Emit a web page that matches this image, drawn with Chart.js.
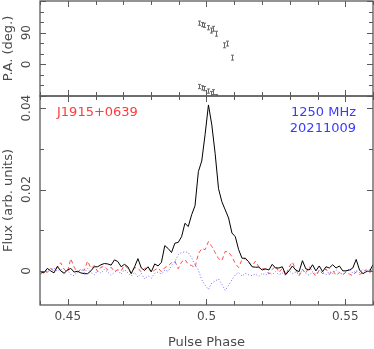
<!DOCTYPE html>
<html>
<head>
<meta charset="utf-8">
<script src="https://cdn.jsdelivr.net/npm/chart.js@4/dist/chart.umd.min.js"></script>
<style>
  html, body { margin: 0; padding: 0; background: #fff; }
  #wrap { position: relative; width: 374px; height: 349px; }
  #wrap canvas { position: absolute; left: 0; top: 0; }
</style>
</head>
<body>
<div id="wrap">
  <canvas id="paChart" width="374" height="349"></canvas>
  <canvas id="profChart" width="374" height="349"></canvas>
</div>
<script>
// Pulse profile of J1915+0639, 1250 MHz, 20211009

// phase bins (start + step, one per profile value)
const PHASE_START = 0.4402;
const PHASE_STEP = 0.00121;

// total intensity (black, solid)
const fluxI = [
  -0.0002, -0.0005, 0.0006, 0.0000, -0.0005, 0.0011, 0.0000, -0.0006, 0.0002, 0.0006,
  -0.0003, -0.0001, -0.0005, -0.0007, -0.0007, 0.0000, 0.0010, 0.0010, 0.0015, 0.0018,
  0.0017, 0.0014, 0.0027, 0.0023, 0.0010, 0.0016, 0.0010, -0.0007, 0.0010, 0.0030,
  0.0007, 0.0001, 0.0010, -0.0002, 0.0017, 0.0012, 0.0021, 0.0062, 0.0055, 0.0045,
  0.0068, 0.0070, 0.0084, 0.0117, 0.0109, 0.0138, 0.0160, 0.0244, 0.0270, 0.0335,
  0.0408, 0.0359, 0.0288, 0.0202, 0.0170, 0.0150, 0.0130, 0.0093, 0.0084, 0.0052,
  0.0031, 0.0031, 0.0022, 0.0010, 0.0009, 0.0009, 0.0002, 0.0005, 0.0002, 0.0016,
  0.0007, 0.0007, 0.0010, -0.0009, 0.0000, 0.0012, 0.0002, -0.0002, 0.0025, 0.0005,
  0.0002, 0.0015, 0.0000, 0.0012, -0.0002, 0.0010, 0.0007, 0.0015, 0.0007, 0.0012,
  0.0000, 0.0000, 0.0002, 0.0007, 0.0028, 0.0002, -0.0007, -0.0002, -0.0001, 0.0015
];

// linear polarisation (red, dashed)
const fluxL = [
  -0.0009, 0.0001, -0.0004, 0.0006, 0.0000, 0.0008, 0.0020, 0.0004, -0.0003, 0.0030,
  0.0009, -0.0004, 0.0005, 0.0001, 0.0024, 0.0006, 0.0013, -0.0002, 0.0009, 0.0011,
  0.0002, 0.0009, -0.0002, 0.0003, 0.0000, 0.0014, 0.0006, -0.0006, 0.0008, 0.0007,
  -0.0003, 0.0006, 0.0008, -0.0004, 0.0002, 0.0007, -0.0002, 0.0008, 0.0012, 0.0020,
  0.0024, 0.0005, 0.0022, 0.0028, 0.0016, 0.0013, 0.0008, 0.0042, 0.0055, 0.0052,
  0.0072, 0.0060, 0.0045, 0.0030, 0.0025, 0.0048, 0.0046, 0.0035, 0.0018, 0.0008,
  0.0028, 0.0030, 0.0020, 0.0012, 0.0024, 0.0010, 0.0006, 0.0004, -0.0008, 0.0003,
  0.0012, -0.0004, 0.0006, -0.0011, 0.0009, 0.0022, 0.0003, -0.0012, 0.0004, -0.0006,
  0.0011, -0.0003, -0.0013, 0.0002, -0.0007, 0.0005, -0.0009, 0.0001, -0.0011, -0.0004,
  -0.0010, -0.0003, -0.0008, -0.0012, -0.0002, -0.0009, -0.0005, 0.0003, -0.0006, 0.0008
];

// circular polarisation (blue, dotted)
const fluxV = [
  -0.0008, -0.0003, 0.0000, 0.0004, 0.0007, -0.0001, 0.0005, -0.0006, 0.0002, -0.0009,
  -0.0012, -0.0002, 0.0004, -0.0005, 0.0006, -0.0004, -0.0010, 0.0001, -0.0006, 0.0004,
  -0.0003, -0.0011, -0.0004, 0.0002, -0.0008, 0.0003, -0.0005, -0.0013, -0.0004, -0.0015,
  -0.0006, -0.0020, -0.0012, -0.0018, -0.0006, -0.0003, -0.0008, 0.0002, -0.0001, 0.0012,
  0.0022, 0.0040, 0.0045, 0.0047, 0.0045, 0.0032, 0.0015, 0.0002, -0.0022, -0.0035,
  -0.0046, -0.0030, -0.0025, -0.0020, -0.0033, -0.0048, -0.0036, -0.0022, -0.0010, -0.0004,
  -0.0013, -0.0006, -0.0010, -0.0012, -0.0008, -0.0014, -0.0006, -0.0011, -0.0004, -0.0009,
  -0.0002, -0.0010, -0.0005, -0.0012, 0.0001, -0.0007, -0.0003, -0.0009, 0.0002, -0.0006,
  -0.0011, -0.0002, -0.0008, 0.0002, -0.0005, -0.0010, -0.0001, -0.0007, 0.0003, -0.0004,
  -0.0009, -0.0001, 0.0005, -0.0006, 0.0001, -0.0004, 0.0003, -0.0002, 0.0004, -0.0003
];

// position angle points
const paPhase = [0.4974, 0.4985, 0.4992, 0.5004, 0.5015, 0.5025, 0.5034, 0.5064, 0.5073, 0.5093];
const paDeg   = [117, 113, 111, 104, 96, 101, 87, 54, 59, 19];
const paErr   = [6, 6, 6, 6, 7, 7, 7, 7, 7, 7];

// axis ticks
const xTicks = [0.44, 0.45, 0.46, 0.47, 0.48, 0.49, 0.5, 0.51, 0.52, 0.53, 0.54, 0.55, 0.56];
const xMajor = [0.45, 0.5, 0.55];
const xLabels = ['0.45', '0.5', '0.55'];
const paTicks = [-90, -60, -30, 0, 30, 60, 90, 120, 150, 180];
const paMajor = [-90, 0, 90, 180];
const paLabels = { 0: '0', 90: '90' };
const fluxTicks = [0, 0.01, 0.02, 0.03, 0.04];
const fluxMajor = [0, 0.02, 0.04];
const fluxLabels = { 0: '0', 0.02: '0.02', 0.04: '0.04' };

const AXIS_COLOR = '#5a5a5a';
const TEXT_COLOR = '#4a4a4a';
const FONT = "'DejaVu Sans', sans-serif";

const phase = fluxI.map((_, i) => PHASE_START + i * PHASE_STEP);
const toPoints = (xs, ys) => ys.map((y, i) => ({ x: xs[i], y: y }));

function drawRotated(ctx, text, x, y) {
    ctx.save();
    ctx.translate(x, y);
    ctx.rotate(-Math.PI / 2);
    ctx.fillText(text, 0, 0);
    ctx.restore();
}

// frame with inward ticks, pgplot style
const framePlugin = {
    id: 'frame',
    afterDraw(chart, args, opts) {
        const ctx = chart.ctx;
        const a = chart.chartArea;
        const xs = chart.scales.x;
        const ys = chart.scales.y;
        ctx.save();
        ctx.strokeStyle = AXIS_COLOR;
        ctx.lineWidth = 1.3;
        ctx.strokeRect(a.left, a.top, a.right - a.left, a.bottom - a.top);

        ctx.lineWidth = 1;
        ctx.beginPath();
        xTicks.forEach(v => {
            const px = Math.round(xs.getPixelForValue(v)) + 0.5;
            const len = xMajor.includes(v) ? 6 : 4;
            ctx.moveTo(px, a.bottom); ctx.lineTo(px, a.bottom - len);
            ctx.moveTo(px, a.top); ctx.lineTo(px, a.top + len);
        });
        opts.yTicks.forEach(v => {
            const py = Math.round(ys.getPixelForValue(v)) + 0.5;
            const len = opts.yMajor.includes(v) ? 6 : 4;
            ctx.moveTo(a.left, py); ctx.lineTo(a.left + len, py);
            ctx.moveTo(a.right, py); ctx.lineTo(a.right - len, py);
        });
        ctx.stroke();

        ctx.fillStyle = TEXT_COLOR;
        ctx.textAlign = 'center';
        ctx.textBaseline = 'middle';
        ctx.font = '12px ' + FONT;
        Object.keys(opts.yLabels).forEach(k => {
            drawRotated(ctx, opts.yLabels[k], 27, ys.getPixelForValue(Number(k)));
        });
        ctx.font = '13px ' + FONT;
        drawRotated(ctx, opts.title, 9, (a.top + a.bottom) / 2);

        if (opts.xAxis) {
            ctx.font = '12px ' + FONT;
            xMajor.forEach((v, i) => {
                ctx.fillText(xLabels[i], xs.getPixelForValue(v), 317);
            });
            ctx.font = '13px ' + FONT;
            ctx.fillText('Pulse Phase', (a.left + a.right) / 2, 343);
        }

        (opts.notes || []).forEach(n => {
            ctx.font = '13px ' + FONT;
            ctx.fillStyle = n.color;
            ctx.textAlign = n.align;
            ctx.fillText(n.text, n.x, n.y);
        });
        ctx.restore();
    }
};

// vertical error bars for the P.A. points
const errorBarPlugin = {
    id: 'errbars',
    afterDatasetsDraw(chart) {
        const ctx = chart.ctx;
        const a = chart.chartArea;
        const ys = chart.scales.y;
        ctx.save();
        ctx.beginPath();
        ctx.rect(a.left, a.top, a.right - a.left, a.bottom - a.top);
        ctx.clip();
        ctx.strokeStyle = '#6a6a6a';
        ctx.lineWidth = 1;
        ctx.beginPath();
        chart.data.datasets.forEach((ds, di) => {
            chart.getDatasetMeta(di).data.forEach((pt, i) => {
                const v = ds.data[i].y;
                const x = Math.round(pt.x) + 0.5;
                const y1 = ys.getPixelForValue(v + paErr[i]);
                const y2 = ys.getPixelForValue(v - paErr[i]);
                ctx.moveTo(x, y1); ctx.lineTo(x, y2);
                ctx.moveTo(x - 1.5, y1); ctx.lineTo(x + 1.5, y1);
                ctx.moveTo(x - 1.5, y2); ctx.lineTo(x + 1.5, y2);
            });
        });
        ctx.stroke();
        ctx.restore();
    }
};

const baseOptions = {
    responsive: false,
    animation: false,
    events: [],
    plugins: { legend: { display: false }, tooltip: { enabled: false } }
};

// top panel: position angle, plotted at PA and PA-180
new Chart(document.getElementById('paChart'), {
    type: 'scatter',
    data: {
        datasets: [
            { data: toPoints(paPhase, paDeg), pointRadius: 0 },
            { data: toPoints(paPhase, paDeg.map(d => d - 180)), pointRadius: 0 }
        ]
    },
    options: {
        ...baseOptions,
        layout: { padding: { left: 40, right: 1, top: 1, bottom: 253 } },
        plugins: {
            ...baseOptions.plugins,
            frame: { yTicks: paTicks, yMajor: paMajor, yLabels: paLabels, title: 'P.A. (deg.)' }
        },
        scales: {
            x: { type: 'linear', min: 0.44, max: 0.56, display: false },
            y: { type: 'linear', min: -90, max: 180, display: false }
        }
    },
    plugins: [errorBarPlugin, framePlugin]
});

// bottom panel: I, L, V profiles
new Chart(document.getElementById('profChart'), {
    type: 'line',
    data: {
        datasets: [
            { data: toPoints(phase, fluxI), borderColor: '#000000', borderWidth: 1, pointRadius: 0, tension: 0 },
            { data: toPoints(phase, fluxL), borderColor: '#ff4a4a', borderWidth: 1, borderDash: [4, 3], pointRadius: 0, tension: 0 },
            { data: toPoints(phase, fluxV), borderColor: '#6a6aff', borderWidth: 1, borderDash: [1, 2], pointRadius: 0, tension: 0 }
        ]
    },
    options: {
        ...baseOptions,
        layout: { padding: { left: 40, right: 1, top: 96, bottom: 44 } },
        plugins: {
            ...baseOptions.plugins,
            frame: {
                yTicks: fluxTicks, yMajor: fluxMajor, yLabels: fluxLabels,
                title: 'Flux (arb. units)', xAxis: true,
                notes: [
                    { text: 'J1915+0639', x: 57, y: 113, color: '#ff3a3a', align: 'left' },
                    { text: '1250 MHz', x: 356, y: 113, color: '#3a3aff', align: 'right' },
                    { text: '20211009', x: 356, y: 129, color: '#3a3aff', align: 'right' }
                ]
            }
        },
        scales: {
            x: { type: 'linear', min: 0.44, max: 0.56, display: false },
            y: { type: 'linear', min: -0.0084, max: 0.043, display: false }
        }
    },
    plugins: [framePlugin]
});
</script>
</body>
</html>
